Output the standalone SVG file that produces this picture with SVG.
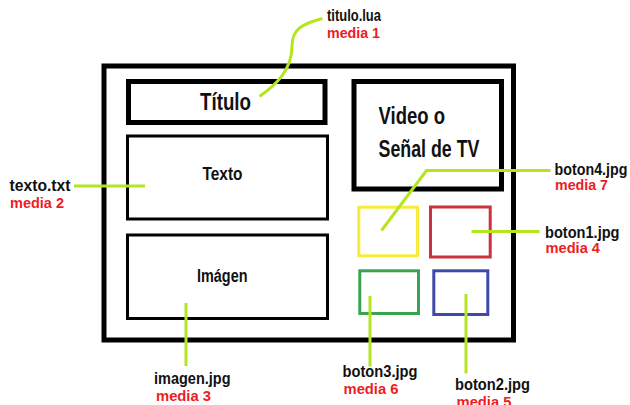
<svg xmlns="http://www.w3.org/2000/svg" width="630" height="405" viewBox="0 0 630 405">
<style>
.box{fill:none;stroke:#000}
.t{font-family:"Liberation Sans",Arial,sans-serif;font-weight:bold;fill:#111}
.lbl{font-family:"Liberation Sans",Arial,sans-serif;font-weight:bold;font-size:16.5px;fill:#111}
.med{font-family:"Liberation Sans",Arial,sans-serif;font-weight:bold;font-size:15.5px;fill:#ee1c24}
.c{fill:none;stroke:#b5e61d;stroke-width:3;stroke-linecap:butt}
</style>
<rect width="630" height="405" fill="#fff"/>
<g id="screen"><rect class="box" x="104" y="66" width="409.5" height="274" stroke-width="5"/></g>
<g id="titulo"><rect class="box" x="128.5" y="81.5" width="196.5" height="41" stroke-width="5"/>
<text class="t" x="200" y="110" font-size="23" textLength="51" lengthAdjust="spacingAndGlyphs">Título</text></g>
<g id="texto"><rect class="box" x="127.5" y="136" width="200" height="83" stroke-width="3"/>
<text class="t" x="202.5" y="179.5" font-size="18" textLength="40" lengthAdjust="spacingAndGlyphs">Texto</text></g>
<g id="imagen"><rect class="box" x="127.5" y="235" width="200" height="83.5" stroke-width="3"/>
<text class="t" x="197" y="281.5" font-size="18" textLength="50.5" lengthAdjust="spacingAndGlyphs">Imágen</text></g>
<g id="video"><rect class="box" x="354" y="81.5" width="147.5" height="107.5" stroke-width="5"/>
<text class="t" x="378.5" y="124" font-size="23" textLength="66.5" lengthAdjust="spacingAndGlyphs">Video o</text>
<text class="t" x="378.5" y="156.5" font-size="23" textLength="101" lengthAdjust="spacingAndGlyphs">Señal de TV</text></g>
<g id="boton4"><rect x="358.8" y="207.2" width="58.7" height="48.6" fill="none" stroke="#f7ec3b" stroke-width="3"/></g>
<g id="boton1"><rect x="430.5" y="207" width="59.7" height="50" fill="none" stroke="#c9333b" stroke-width="3"/></g>
<g id="boton3"><rect x="359.8" y="270.8" width="58.7" height="42.7" fill="none" stroke="#3aa352" stroke-width="3"/></g>
<g id="boton2"><rect x="433.8" y="270.8" width="54" height="43.7" fill="none" stroke="#4049a8" stroke-width="3"/></g>
<g id="connectors">
<path class="c" d="M322.5,18.5 C300,24 292,31 292,46 C292,70 276,85 259.5,96.5"/>
<path class="c" d="M74,186 H145"/>
<path class="c" d="M186,303 V366"/>
<path class="c" d="M550.5,170.5 H426.5 L381.5,230.5"/>
<path class="c" d="M471.5,231.5 H539.5"/>
<path class="c" d="M370,296 V366.5"/>
<path class="c" d="M466,294 V373.5"/>
</g>
<g id="labels">
<text class="lbl" x="327" y="21" textLength="54" lengthAdjust="spacingAndGlyphs">titulo.lua</text>
<text class="med" x="327" y="38" textLength="53" lengthAdjust="spacingAndGlyphs">media 1</text>
<text class="lbl" x="9.5" y="191" textLength="61" lengthAdjust="spacingAndGlyphs">texto.txt</text>
<text class="med" x="10" y="208" textLength="54" lengthAdjust="spacingAndGlyphs">media 2</text>
<text class="lbl" x="154" y="383.5" textLength="76.5" lengthAdjust="spacingAndGlyphs">imagen.jpg</text>
<text class="med" x="156" y="401" textLength="55" lengthAdjust="spacingAndGlyphs">media 3</text>
<text class="lbl" x="554.5" y="175" textLength="73" lengthAdjust="spacingAndGlyphs">boton4.jpg</text>
<text class="med" x="555" y="189.5" textLength="53" lengthAdjust="spacingAndGlyphs">media 7</text>
<text class="lbl" x="545" y="237.5" textLength="74.5" lengthAdjust="spacingAndGlyphs">boton1.jpg</text>
<text class="med" x="545.5" y="252.5" textLength="54.5" lengthAdjust="spacingAndGlyphs">media 4</text>
<text class="lbl" x="342.5" y="377" textLength="75" lengthAdjust="spacingAndGlyphs">boton3.jpg</text>
<text class="med" x="343.5" y="394" textLength="55" lengthAdjust="spacingAndGlyphs">media 6</text>
<text class="lbl" x="455" y="390" textLength="75" lengthAdjust="spacingAndGlyphs">boton2.jpg</text>
<text class="med" x="456.5" y="407" textLength="55" lengthAdjust="spacingAndGlyphs">media 5</text>
</g>
</svg>
